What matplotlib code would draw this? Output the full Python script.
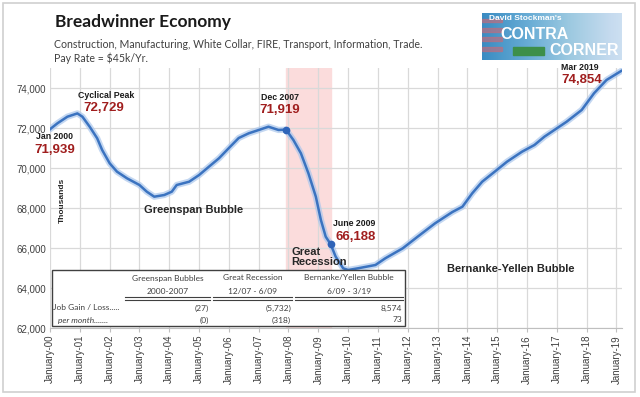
import numpy as np
import pandas as pd
import matplotlib
matplotlib.use("Agg")
import matplotlib.pyplot as plt
import matplotlib.dates as mdates
from matplotlib.patches import Rectangle
from matplotlib.lines import Line2D
from matplotlib.ticker import FuncFormatter

# values (thousands of jobs)
months = ["2000-01", "2000-04", "2000-08", "2000-12", "2001-02", "2001-05", "2001-08",
          "2001-10", "2002-01", "2002-04", "2002-08", "2003-01", "2003-04", "2003-07",
          "2003-11", "2004-02", "2004-04", "2004-09", "2005-01", "2005-05", "2005-09",
          "2006-01", "2006-05", "2006-09", "2007-01", "2007-05", "2007-09", "2007-12",
          "2008-03", "2008-06", "2008-09", "2008-12", "2009-02", "2009-04", "2009-06",
          "2009-08", "2009-11", "2010-01", "2010-05", "2010-12", "2011-04", "2011-11",
          "2012-05", "2012-12", "2013-07", "2013-11", "2014-03", "2014-07", "2014-12",
          "2015-05", "2015-11", "2016-04", "2016-08", "2016-12", "2017-05", "2017-11",
          "2018-04", "2018-09", "2019-03"]
jobs = [71939, 72235, 72565, 72729, 72565, 72065, 71485,
        70900, 70235, 69815, 69485, 69150, 68815, 68565,
        68650, 68815, 69150, 69315, 69650, 70065, 70485,
        71000, 71500, 71735, 71900, 72065, 71900, 71919,
        71400, 70735, 69735, 68565, 67400, 66565, 66188,
        65565, 64985, 64900, 64985, 65150, 65485, 65985,
        66565, 67235, 67800, 68065, 68735, 69315, 69815,
        70315, 70815, 71150, 71565, 71900, 72315, 72900,
        73735, 74400, 74854]

markers = ["2007-12", "2009-06"]
recession = ("2007-12", "2009-06")

table_cols = ["Greenspan Bubbles", "Great Recession", "Bernanke/Yellen Bubble"]
table_periods = ["2000-2007", "12/07 - 6/09", "6/09 - 3/19"]
job_gain = ["(27)", "(5,732)", "8,574"]
per_month = ["(0)", "(318)", "73"]

dates = pd.to_datetime(months)
W, H = 640, 397


def fx(px):
    return px / W


def fy(py):
    return 1 - py / H


fig = plt.figure(figsize=(6.4, 3.97), dpi=100)
fig.patch.set_facecolor("white")
fig.add_artist(Rectangle((fx(3), fy(392)), fx(632), 389 / H, fill=False,
                         edgecolor="#d0d0d0", lw=1.2))

ax = fig.add_axes([fx(50), fy(328), (622 - 50) / W, (328 - 68) / H])
ax.axvspan(pd.Timestamp(recession[0]), pd.Timestamp(recession[1]),
           color="#fbdcdc", zorder=0)
ax.plot(dates, jobs, color="#aac6ec", lw=4.5, alpha=0.7, zorder=2,
        solid_capstyle="round")
ax.plot(dates, jobs, color="#3b73c0", lw=1.8, zorder=3)
mk = [jobs[months.index(m)] for m in markers]
ax.plot(pd.to_datetime(markers), mk, "o", color="#2f64b8", ms=4.5, zorder=4)

ax.set_xlim(pd.Timestamp("2000-01-01"), pd.Timestamp("2019-03-10"))
ax.set_ylim(62000, 75000)
ax.set_yticks(np.arange(62000, 74001, 2000))
ax.yaxis.set_major_formatter(FuncFormatter(lambda v, p: f"{v:,.0f}"))
ax.xaxis.set_major_locator(mdates.YearLocator())
ax.xaxis.set_major_formatter(mdates.DateFormatter("%B-%y"))
ax.grid(True, color="#d9d9d9", lw=0.9)
ax.set_axisbelow(True)
for s in ["top", "right", "left"]:
    ax.spines[s].set_visible(False)
ax.spines["bottom"].set_color("#bfbfbf")
ax.tick_params(axis="y", length=0, pad=3, labelsize=7, labelcolor="#404040")
ax.tick_params(axis="x", length=3, color="#bfbfbf", labelsize=7,
               labelcolor="#404040", rotation=90, pad=2)
for lab in ax.get_xticklabels() + ax.get_yticklabels():
    lab.set_family("Liberation Sans")

# titles
fig.text(fx(55), fy(22), "Breadwinner Economy", fontsize=12.5, fontweight="bold",
         family="Lato", color="#1a1a1a", va="center")
fig.text(fx(54), fy(45), "Construction, Manufacturing, White Collar, FIRE, Transport, Information, Trade.",
         fontsize=7.6, family="Lato", color="#404040", va="center")
fig.text(fx(54), fy(58), "Pay Rate = $45k/Yr.", fontsize=7.6, family="Lato",
         color="#404040", va="center")

# logo
lax = fig.add_axes([fx(482), fy(60), 140 / W, 47 / H])
grad = np.linspace(0, 1, 256).reshape(1, -1)
lax.imshow(grad, aspect="auto", cmap="Blues_r", extent=[0, 1, 0, 1], vmin=-0.8, vmax=1.5)
for k in range(4):
    lax.add_patch(Rectangle((0, 0.2 + k * 0.2), 0.14, 0.08, color="#c86a78", alpha=0.6))
lax.set_xlim(0, 1)
lax.set_ylim(0, 1)
lax.axis("off")
lax.text(0.05, 0.88, "David Stockman's", color="white", fontsize=6, fontweight="bold",
         family="Liberation Sans", va="center")
lax.text(0.13, 0.55, "CONTRA", color="white", fontsize=11.5, fontweight="bold",
         family="Liberation Sans", va="center")
lax.text(0.98, 0.2, "CORNER", color="white", fontsize=11.5, fontweight="bold",
         family="Liberation Sans", va="center", ha="right")
lax.add_patch(Rectangle((0.22, 0.1), 0.22, 0.18, color="#3d8f4a"))

red = "#a01e1e"
lbl = dict(fontsize=6.3, fontweight="bold", family="Liberation Sans", color="#1a1a1a",
           va="center")
num = dict(fontsize=9.5, fontweight="bold", family="Liberation Sans", color=red,
           va="center")
fig.text(fx(55), fy(137), "Jan 2000", ha="center", **lbl)
fig.text(fx(55), fy(150), "71,939", ha="center", **num)
fig.text(fx(106), fy(95), "Cyclical Peak", ha="center", **lbl)
fig.text(fx(104), fy(108), "72,729", ha="center", **num)
fig.text(fx(280), fy(97), "Dec 2007", ha="center", **lbl)
fig.text(fx(280), fy(110), "71,919", ha="center", **num)
fig.text(fx(354), fy(224), "June 2009", ha="center", **lbl)
fig.text(fx(356), fy(237), "66,188", ha="center", **num)
fig.text(fx(599), fy(67), "Mar 2019", ha="right", **lbl)
fig.text(fx(602), fy(80), "74,854", ha="right", **num)
big = dict(fontsize=8, fontweight="bold", family="Liberation Sans", color="#262626",
           va="center")
fig.text(fx(291), fy(252), "Great", ha="left", **big)
fig.text(fx(291), fy(262), "Recession", ha="left", **big)
fig.text(fx(194), fy(210), "Greenspan Bubble", ha="center", **big)
fig.text(fx(511), fy(269), "Bernanke-Yellen Bubble", ha="center", **big)
fig.text(fx(62), fy(200), "Thousands", rotation=90, ha="center", fontsize=6,
         fontweight="bold", family="Liberation Sans", color="#262626", va="center")

# summary table
fig.add_artist(Rectangle((fx(52), fy(326)), (405 - 52) / W, (326 - 270) / H,
                         facecolor="white", edgecolor="#404040", lw=1))
col_l = [125, 213, 295]
col_r = [210, 292, 403]
tt = dict(fontsize=6, family="Lato", color="#404040", va="center")
for i in range(3):
    c = (col_l[i] + col_r[i]) / 2
    fig.text(fx(c), fy(278), table_cols[i], ha="center", **tt)
    fig.text(fx(c), fy(291), table_periods[i], ha="center", **tt)
    for yy in (297, 299.5):
        fig.add_artist(Line2D([fx(col_l[i]), fx(col_r[i])], [fy(yy), fy(yy)],
                              color="#404040", lw=0.8))
    fig.text(fx(col_r[i] - 1), fy(308), job_gain[i], ha="right", **tt)
    fig.text(fx(col_r[i] - 1), fy(320), per_month[i], ha="right", **tt)
fig.text(fx(53), fy(308), "Job Gain / Loss.....", ha="left", **tt)
fig.text(fx(58), fy(320), "per month.......", ha="left", style="italic", **tt)

fig.savefig("out.png", dpi=100)
